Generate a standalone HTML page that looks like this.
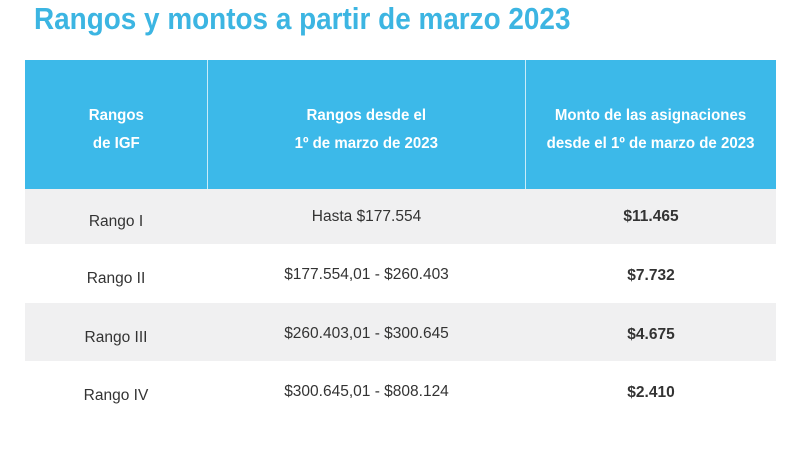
<!DOCTYPE html>
<html><head><meta charset="utf-8"><style>
body{margin:0;width:800px;height:450px;background:#fff;font-family:"Liberation Sans",sans-serif;position:relative;overflow:hidden}
.t{position:absolute;left:34px;top:1px;font-size:31px;font-weight:bold;color:#3cb5e2;white-space:nowrap;transform:scaleX(0.9);transform-origin:left top;line-height:36px}
.hdr{position:absolute;left:25px;top:60px;width:751px;height:129px;background:#3cb9e9}
.div{position:absolute;top:60px;width:1px;height:129px;background:#c9ecf9}
.h{position:absolute;top:60px;height:129px;padding-top:10px;box-sizing:border-box;display:flex;align-items:center;justify-content:center;text-align:center;color:#fff;font-weight:bold;font-size:16px;line-height:28px}
.h span{display:inline-block;transform:scaleX(0.94)}
.row{position:absolute;left:25px;width:751px}
.c{position:absolute;display:flex;align-items:center;justify-content:center;color:#333;font-size:15.5px;padding-top:6px;box-sizing:border-box}
</style></head><body>
<div class="t">Rangos y montos a partir de marzo 2023</div>
<div class="hdr"></div>
<div class="div" style="left:207px"></div>
<div class="div" style="left:525px"></div>
<div class="h" style="left:25px;width:182px"><span>Rangos<br>de IGF</span></div>
<div class="h" style="left:208px;width:317px"><span>Rangos desde el<br>1º de marzo de 2023</span></div>
<div class="h" style="left:526px;width:250px"><span>Monto de las asignaciones<br>desde el 1º de marzo de 2023</span></div>
<div class="row" style="top:189px;height:55px;background:#f0f0f1"></div>
<div class="row" style="top:303px;height:58px;background:#f0f0f1"></div>
<div class="c" style="left:25px;width:182px;top:191px;height:55px">Rango I</div>
<div class="c" style="left:208px;width:317px;top:186px;height:55px">Hasta $177.554</div>
<div class="c" style="left:526px;width:250px;top:186px;height:55px;font-weight:bold">$11.465</div>
<div class="c" style="left:25px;width:182px;top:247px;height:58px">Rango II</div>
<div class="c" style="left:208px;width:317px;top:243px;height:58px">$177.554,01 - $260.403</div>
<div class="c" style="left:526px;width:250px;top:244px;height:58px;font-weight:bold">$7.732</div>
<div class="c" style="left:25px;width:182px;top:306px;height:58px">Rango III</div>
<div class="c" style="left:208px;width:317px;top:302px;height:58px">$260.403,01 - $300.645</div>
<div class="c" style="left:526px;width:250px;top:303px;height:58px;font-weight:bold">$4.675</div>
<div class="c" style="left:25px;width:182px;top:364px;height:58px">Rango IV</div>
<div class="c" style="left:208px;width:317px;top:360px;height:58px">$300.645,01 - $808.124</div>
<div class="c" style="left:526px;width:250px;top:361px;height:58px;font-weight:bold">$2.410</div>
</body></html>
